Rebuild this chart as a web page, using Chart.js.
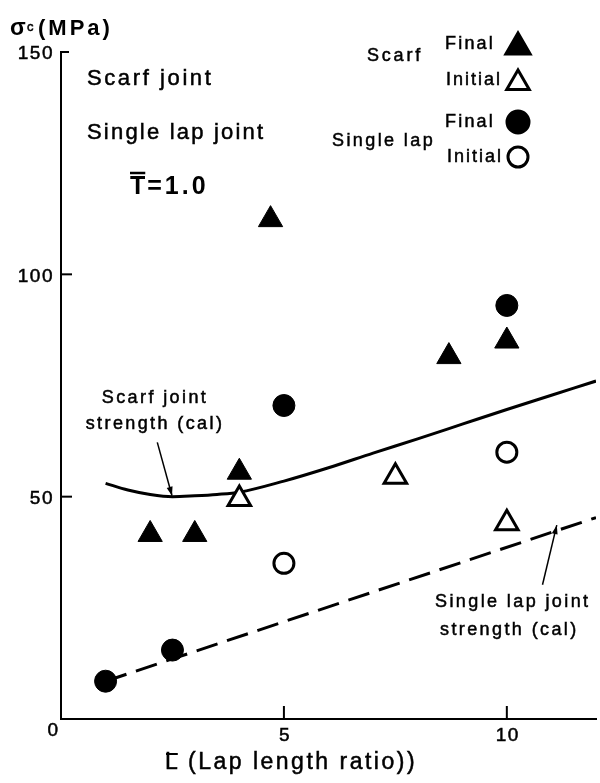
<!DOCTYPE html>
<html>
<head>
<meta charset="utf-8">
<script src="https://cdn.jsdelivr.net/npm/chart.js@4/dist/chart.umd.min.js"></script>
<style>
  html, body { margin: 0; padding: 0; background: #fff; }
  #wrap { width: 600px; height: 783px; position: relative; }
</style>
</head>
<body>
<div id="wrap"><canvas id="c" width="600" height="783"></canvas></div>
<script>
// Lap length ratio (x) and strength in MPa (y) for each series
const scarfFinalX = [2, 3, 4, 4.7, 8.7, 10];
const scarfFinalY = [41.5, 41.5, 55.5, 112.3, 81.5, 85];
const scarfInitialX = [4, 7.5, 10];
const scarfInitialY = [49.5, 54.5, 44];
const lapFinalX = [1, 2.5, 5, 10];
const lapFinalY = [8.5, 15.5, 70.5, 93];
const lapInitialX = [5, 10];
const lapInitialY = [35, 60];

// Calculated strength curves
const scarfCalX = [1, 1.5, 2, 2.5, 3, 3.5, 4, 5, 6, 7, 8, 9, 10, 11, 12];
const scarfCalY = [53, 51.5, 50.5, 50, 50.2, 50.5, 51, 53.5, 56.5, 59.8, 63, 66.3, 69.6, 72.8, 76];
const lapCalX = [1, 12];
const lapCalY = [8.5, 45.3];

// Axis ticks
const xTicks = [5, 10];
const xTickLabels = ['5', '10'];
const yTicks = [50, 100, 150];
const yTickLabels = ['50', '100', '150'];

const FONT = '"Liberation Sans", Arial, Helvetica, sans-serif';
const pts = (xs, ys) => xs.map((x, i) => ({ x, y: ys[i] }));

function text(ctx, s, x, y, size, o = {}) {
  ctx.font = `${o.bold ? 'bold ' : ''}${size}px ${FONT}`;
  ctx.letterSpacing = (o.ls || 0) + 'px';
  ctx.textAlign = o.align || 'left';
  ctx.textBaseline = o.baseline || 'middle';
  ctx.fillStyle = '#000';
  ctx.fillText(s, x, y);
  if (!o.bold) {
    // slightly heavier strokes, like a printed figure
    ctx.strokeStyle = '#000';
    ctx.lineWidth = 0.5;
    ctx.strokeText(s, x, y);
  }
  const w = ctx.measureText(s).width;
  ctx.letterSpacing = '0px';
  return w;
}

function arrow(ctx, x1, y1, x2, y2) {
  ctx.save();
  ctx.strokeStyle = '#000';
  ctx.fillStyle = '#000';
  ctx.lineWidth = 1.5;
  ctx.beginPath();
  ctx.moveTo(x1, y1);
  ctx.lineTo(x2, y2);
  ctx.stroke();
  const a = Math.atan2(y2 - y1, x2 - x1);
  const L = 9, W = 3;
  ctx.beginPath();
  ctx.moveTo(x2, y2);
  ctx.lineTo(x2 - L * Math.cos(a) + W * Math.sin(a), y2 - L * Math.sin(a) - W * Math.cos(a));
  ctx.lineTo(x2 - L * Math.cos(a) - W * Math.sin(a), y2 - L * Math.sin(a) + W * Math.cos(a));
  ctx.closePath();
  ctx.fill();
  ctx.restore();
}

function marker(ctx, style, filled, r, x, y) {
  ctx.save();
  ctx.fillStyle = filled ? '#000' : '#fff';
  ctx.strokeStyle = '#000';
  ctx.lineWidth = 3;
  Chart.helpers.drawPoint(ctx, { pointStyle: style, radius: r, rotation: 0, borderWidth: 3 }, x, y);
  ctx.restore();
}

const decor = {
  id: 'decor',
  afterDraw(chart) {
    const ctx = chart.ctx;
    const xs = chart.scales.x, ys = chart.scales.y;
    const area = chart.chartArea;
    ctx.save();

    // inward tick marks
    ctx.strokeStyle = '#000';
    ctx.lineWidth = 2;
    yTicks.forEach(v => {
      const py = ys.getPixelForValue(v);
      ctx.beginPath();
      ctx.moveTo(area.left, py);
      ctx.lineTo(area.left + (v === 150 ? 8 : 11), py);
      ctx.stroke();
    });
    xTicks.forEach(v => {
      const px = xs.getPixelForValue(v);
      ctx.beginPath();
      ctx.moveTo(px, area.bottom);
      ctx.lineTo(px, area.bottom - 13);
      ctx.stroke();
    });

    // tick labels
    yTicks.forEach((v, i) => text(ctx, yTickLabels[i], area.left - 7, ys.getPixelForValue(v) + 2, 19, { align: 'right', ls: 1.5 }));
    text(ctx, '0', area.left - 3, area.bottom + 12, 19, { align: 'right' });
    xTicks.forEach((v, i) => text(ctx, xTickLabels[i], xs.getPixelForValue(v) + 1, area.bottom + 17, 19, { align: 'center', ls: 1.5 }));

    // y-axis title
    text(ctx, 'σ', 10, 29, 23, { bold: true });
    text(ctx, 'c', 27, 27, 13, {});
    text(ctx, '(MPa)', 38, 29, 22, { bold: true, ls: 3 });

    // x-axis title: L with overbar
    const lx = 165, ly = 763;
    const lw = text(ctx, 'L', lx, ly, 23, {});
    ctx.lineWidth = 2;
    ctx.beginPath();
    ctx.moveTo(lx + 1, ly - 9);
    ctx.lineTo(lx + lw, ly - 9);
    ctx.stroke();
    text(ctx, '(Lap length ratio))', 188, ly, 23, { ls: 2.5 });

    // headings inside the plot
    text(ctx, 'Scarf joint', 87, 79, 22, { ls: 2.6 });
    text(ctx, 'Single lap joint', 87, 133, 22, { ls: 2.2 });
    const tw = text(ctx, 'T', 130, 187, 25, { bold: true });
    ctx.lineWidth = 2.5;
    ctx.beginPath();
    ctx.moveTo(130, 173);
    ctx.lineTo(130 + tw, 173);
    ctx.stroke();
    text(ctx, '=1.0', 130 + tw + 2, 187, 25, { bold: true, ls: 3 });

    // legend
    text(ctx, 'Scarf', 367, 56, 18, { ls: 2.8 });
    text(ctx, 'Final', 445, 44, 18, { ls: 2.2 });
    text(ctx, 'Initial', 446, 80, 18, { ls: 2 });
    text(ctx, 'Single lap', 332, 141, 18, { ls: 2.4 });
    text(ctx, 'Final', 445, 122, 18, { ls: 2.2 });
    text(ctx, 'Initial', 447, 157, 18, { ls: 2 });
    marker(ctx, 'triangle', true, 14, 518, 47);
    marker(ctx, 'triangle', false, 13, 518, 83);
    marker(ctx, 'circle', true, 11, 518, 122);
    marker(ctx, 'circle', false, 10, 518, 157);

    // callouts for the calculated curves
    text(ctx, 'Scarf joint', 155, 398, 18, { align: 'center', ls: 2.4 });
    text(ctx, 'strength (cal)', 155, 424, 18, { align: 'center', ls: 2.4 });
    arrow(ctx, xs.getPixelForValue(2.16), ys.getPixelForValue(62.2), xs.getPixelForValue(2.49), ys.getPixelForValue(50.2));
    text(ctx, 'Single lap joint', 435, 602, 18, { ls: 2.4 });
    text(ctx, 'strength (cal)', 440, 630, 18, { ls: 2.4 });
    arrow(ctx, xs.getPixelForValue(10.8), ys.getPixelForValue(30.2), xs.getPixelForValue(11.12), ys.getPixelForValue(43.6));

    ctx.restore();
  }
};

new Chart(document.getElementById('c'), {
  type: 'scatter',
  data: {
    datasets: [
      { label: 'Scarf joint strength (cal)', data: pts(scarfCalX, scarfCalY), showLine: true,
        borderColor: '#000', borderWidth: 3, pointRadius: 0, cubicInterpolationMode: 'monotone', order: 10 },
      { label: 'Single lap joint strength (cal)', data: pts(lapCalX, lapCalY), showLine: true,
        borderColor: '#000', borderWidth: 3, borderDash: [22, 10], pointRadius: 0, order: 10 },
      { label: 'Scarf Final', data: pts(scarfFinalX, scarfFinalY), pointStyle: 'triangle', pointRadius: 14,
        backgroundColor: '#000', borderColor: '#000', borderWidth: 1, order: 1 },
      { label: 'Scarf Initial', data: pts(scarfInitialX, scarfInitialY), pointStyle: 'triangle', pointRadius: 13,
        backgroundColor: '#fff', borderColor: '#000', borderWidth: 3, order: 1 },
      { label: 'Single lap Final', data: pts(lapFinalX, lapFinalY), pointStyle: 'circle', pointRadius: 11,
        backgroundColor: '#000', borderColor: '#000', borderWidth: 1, order: 1 },
      { label: 'Single lap Initial', data: pts(lapInitialX, lapInitialY), pointStyle: 'circle', pointRadius: 10,
        backgroundColor: '#fff', borderColor: '#000', borderWidth: 3, order: 1 }
    ]
  },
  options: {
    responsive: false,
    animation: false,
    devicePixelRatio: 1,
    layout: { autoPadding: false, padding: { top: 52, right: 4, left: 0, bottom: 0 } },
    plugins: { legend: { display: false }, tooltip: { enabled: false } },
    scales: {
      x: {
        type: 'linear', min: 0, max: 12,
        grid: { display: false, drawTicks: false },
        border: { display: true, color: '#000', width: 2 },
        ticks: { display: false },
        afterFit(s) { s.height = 64; }
      },
      y: {
        type: 'linear', min: 0, max: 150,
        grid: { display: false, drawTicks: false },
        border: { display: true, color: '#000', width: 2 },
        ticks: { display: false },
        afterFit(s) { s.width = 61; }
      }
    }
  },
  plugins: [decor]
});
</script>
</body>
</html>
